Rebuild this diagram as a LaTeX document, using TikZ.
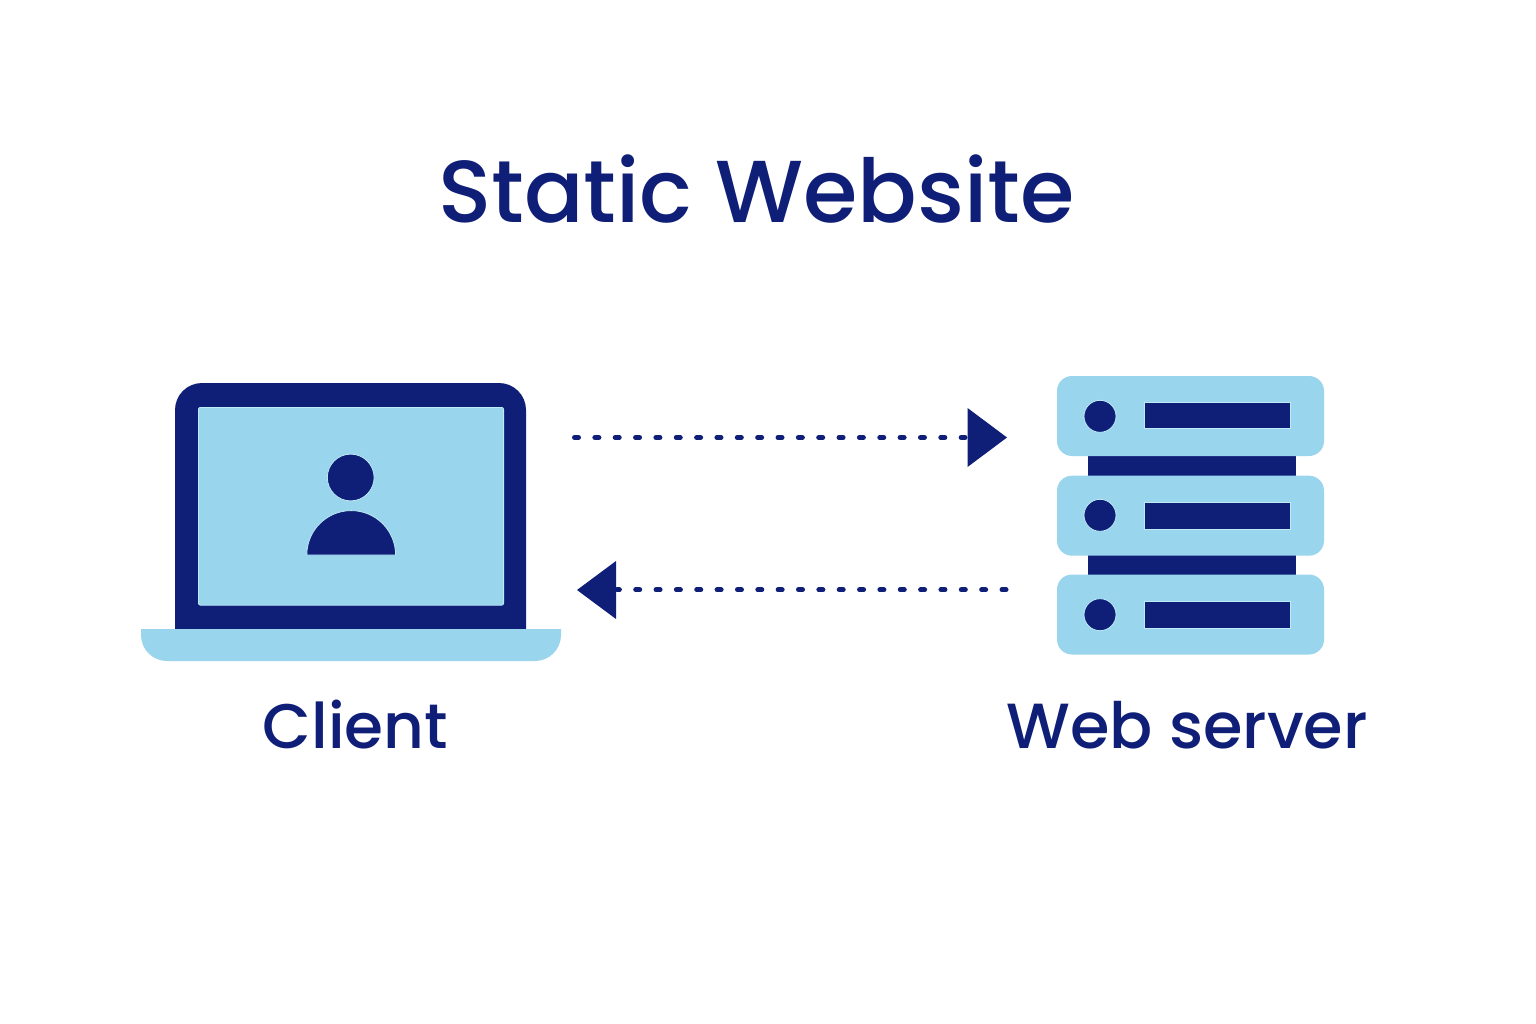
\documentclass[tikz,border=0pt]{standalone}
\usepackage{fontspec}
\setmainfont{Poppins Medium}
\definecolor{navy}{HTML}{0F1F78}
\definecolor{sky}{HTML}{9AD5EE}
\definecolor{halo}{HTML}{BDEBF8}
\tikzset{
  x=1pt,y=-1pt,
  lbl/.style={text=navy,inner sep=0pt,anchor=base},
  link/.style={draw=navy,line width=5pt,line cap=round,dash pattern=on 4pt off 16.35pt},
  tip/.style={fill=navy},
  rack/.style={fill=sky,rounded corners=15pt},
  mark on sky/.style={fill=navy,draw=halo,line width=0.8pt},
}
\begin{document}
\begin{tikzpicture}
\useasboundingbox (0,0) rectangle (1536,1024);
\fill[white] (0,0) rectangle (1536,1024);
% title
\node[lbl,font=\fontsize{88}{90}\selectfont] (title) at (756.5,222.5) {Static Website};
% laptop
\fill[navy] (175,629) -- (175,410) arc[start angle=180,end angle=270,radius=27] -- (499,383) arc[start angle=270,end angle=360,radius=27] -- (526,629) -- cycle;
\fill[sky,draw=halo,line width=0.8pt,rounded corners=2pt] (198.4,407.4) rectangle (503.6,605.2);
\fill[sky] (141,629) -- (561,629) -- (561,635) arc[start angle=0,end angle=90,radius=26] -- (167,661) arc[start angle=90,end angle=180,radius=26] -- cycle;
\path[mark on sky] (350.7,477.5) circle[radius=23.4];
\path[mark on sky] (306.8,555) arc[start angle=180,end angle=360,radius=44.4] -- cycle;
\coordinate (laptop out) at (574.5,437.5);
\coordinate (laptop in) at (617,589.8);
\node[lbl,font=\fontsize{63}{65}\selectfont] (client) at (355.5,748.5) {Client};
% server
\fill[navy] (1088,450) rectangle (1296,580);
\foreach \top/\cy/\by in {376/416.3/402.7, 475.7/515.3/503, 574.5/614.7/602}{
  \fill[rack] (1057,\top) rectangle (1324,\top+80);
  \path[mark on sky] (1100,\cy) circle[radius=16];
  \path[mark on sky] (1144.6,\by-0.4) rectangle (1290.8,\by+25.9);
}
\coordinate (server in) at (965,437.5);
\coordinate (server out) at (1006,589.8);
\node[lbl,font=\fontsize{63.8}{65}\selectfont] (web) at (1187,748.5) {Web server};
% connectors
\draw[link] (laptop out) -- (server in);
\fill[tip] (967.5,408) -- (1007,437.5) -- (967.5,467) -- cycle;
\draw[link] (server out) -- (laptop in);
\fill[tip] (616,561) -- (577,590) -- (616,619) -- cycle;
\end{tikzpicture}
\end{document}
